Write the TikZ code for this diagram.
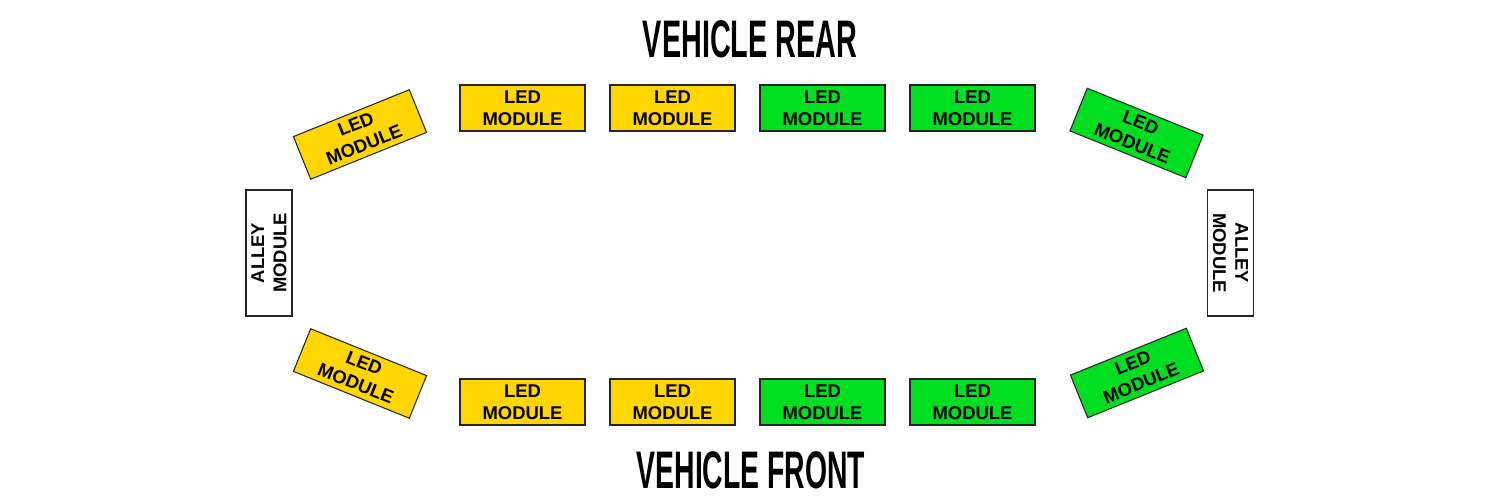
\documentclass[tikz,border=0pt]{standalone}
\usepackage{fontspec}
\setmainfont{Liberation Sans}
\usepackage{tikz}
\usepackage{xcolor}

\definecolor{ledyellow}{RGB}{255,214,0}
\definecolor{ledgreen}{RGB}{0,222,34}
\newcommand{\sidetitle}[2]{\resizebox{#1}{21pt}{\bfseries #2}}

\begin{document}
\begin{tikzpicture}[
    module/.style={draw=black!85, line width=0.6pt, minimum width=2.5cm,
                   minimum height=0.92cm, inner sep=0pt, align=center,
                   font=\fontsize{10.5}{12.6}\selectfont\bfseries},
    ledy/.style={module, fill=ledyellow},
    ledg/.style={module, fill=ledgreen},
    alley/.style={module, fill=white, minimum width=2.52cm}]
  \useasboundingbox (0,0) rectangle (30,10);
  % Titles
  \node (rear) at (15,9.22) {\sidetitle{122pt}{VEHICLE REAR}};
  \node (front) at (15.02,0.6) {\sidetitle{130pt}{VEHICLE FRONT}};
  % Top row of modules
  \node[ledy] (t1) at (10.45,7.84) {LED\\MODULE};
  \node[ledy] (t2) at (13.45,7.84) {LED\\MODULE};
  \node[ledg] (t3) at (16.45,7.84) {LED\\MODULE};
  \node[ledg] (t4) at (19.45,7.84) {LED\\MODULE};
  % Bottom row of modules
  \node[ledy] (b1) at (10.45,1.96) {LED\\MODULE};
  \node[ledy] (b2) at (13.45,1.96) {LED\\MODULE};
  \node[ledg] (b3) at (16.45,1.96) {LED\\MODULE};
  \node[ledg] (b4) at (19.45,1.96) {LED\\MODULE};
  % Corner modules, tilted
  \node[ledy, rotate=22] (tl) at (7.2,7.31) {LED\\MODULE};
  \node[ledg, rotate=-22] (tr) at (22.73,7.34) {LED\\MODULE};
  \node[ledy, rotate=-22] (bl) at (7.2,2.53) {LED\\MODULE};
  \node[ledg, rotate=22] (br) at (22.74,2.54) {LED\\MODULE};
  % Alley modules at the sides
  \node[alley, rotate=90] (al) at (5.38,4.94) {ALLEY\\MODULE};
  \node[alley, rotate=-90] (ar) at (24.61,4.94) {ALLEY\\MODULE};
\end{tikzpicture}
\end{document}
